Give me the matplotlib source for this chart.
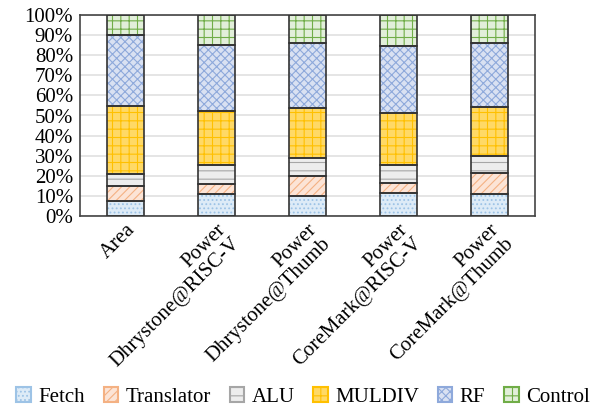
import matplotlib
matplotlib.use("Agg")
import matplotlib.pyplot as plt
import numpy as np
from matplotlib.patches import Patch

plt.rcParams['font.family'] = ['Liberation Serif', 'DejaVu Serif']
plt.rcParams['hatch.linewidth'] = 0.8

categories = ["Area", "Power\nDhrystone@RISC-V", "Power\nDhrystone@Thumb",
              "Power\nCoreMark@RISC-V", "Power\nCoreMark@Thumb"]
series = ["Fetch", "Translator", "ALU", "MULDIV", "RF", "Control"]
fetch      = [7.6, 10.8, 9.8, 11.4, 10.8]
translator = [7.5, 5.3, 10.2, 5.2, 10.6]
alu        = [5.8, 9.3, 8.9, 8.6, 8.3]
muldiv     = [33.7, 26.7, 25.0, 26.2, 24.4]
rf         = [35.6, 32.8, 32.0, 33.3, 32.1]
control    = [9.8, 15.1, 14.1, 15.3, 13.8]
values = [fetch, translator, alu, muldiv, rf, control]

faces = ["#DDEBF7", "#FCE4D6", "#EDEDED", "#FFD966", "#D9E1F2", "#E2EFDA"]
hcols = ["#9DC3E6", "#F4B183", "#A6A6A6", "#FFC000", "#8EA9DB", "#70AD47"]
hatches = ["....", "////", "--", "++", "xxxx", "++"]

fig = plt.figure(figsize=(6.06, 4.11), dpi=100)
ax = fig.add_axes([80/606, 1-216/411, 455/606, 201/411])

x = np.arange(len(categories))
w = 0.4
bottom = np.zeros(len(categories))
for vals, fc, hc, h in zip(values, faces, hcols, hatches):
    ax.bar(x, vals, w, bottom=bottom, color=fc, edgecolor=hc, hatch=h, linewidth=0, zorder=2)
    ax.bar(x, vals, w, bottom=bottom, fill=False, edgecolor="#333333", linewidth=1.2, zorder=3)
    bottom += np.array(vals)

ax.set_xlim(-0.5, len(categories) - 0.5)
ax.set_ylim(0, 100)
ax.set_yticks(np.arange(0, 101, 10))
ax.set_yticklabels([f"{v}%" for v in range(0, 101, 10)], fontsize=15)
ax.yaxis.grid(True, color="#E0E0E0", linewidth=1.2, zorder=0)
ax.set_axisbelow(True)
ax.tick_params(axis='y', length=0, pad=5)
ax.tick_params(axis='x', length=0, pad=3)
ax.set_xticks(x)
ax.set_xticklabels(categories, rotation=45, ha='right', rotation_mode='anchor',
                   multialignment='right', fontsize=15, linespacing=1.05)
for s in ax.spines.values():
    s.set_color("#444444")
    s.set_linewidth(1.2)

handles = [Patch(facecolor=fc, edgecolor=hc, hatch=h, linewidth=1.5)
           for fc, hc, h in zip(faces, hcols, hatches)]
fig.legend(handles, series, loc='center', bbox_to_anchor=(0.5, 1 - 397/411), ncol=6,
           frameon=False, fontsize=15, handlelength=0.7, handleheight=0.7,
           handletextpad=0.35, columnspacing=0.9, borderaxespad=0, borderpad=0)

fig.savefig("out.png", dpi=100)
